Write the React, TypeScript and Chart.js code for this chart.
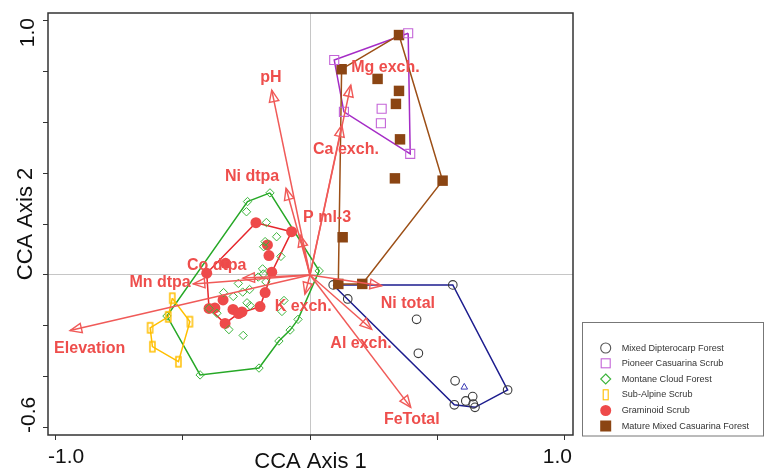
import React, { useEffect, useRef } from 'react';
import { Chart, registerables } from 'chart.js';

Chart.register(...registerables);

// ---------- data (CCA scores) ----------
const mixedDipterocarp: [number, number][] = [
  [0.091, -0.039], [0.148, -0.094], [0.560, -0.039], [0.418, -0.174], [0.425, -0.307], [0.569, -0.415],
  [0.775, -0.451], [0.566, -0.509], [0.611, -0.494], [0.638, -0.477], [0.640, -0.506], [0.647, -0.519],
];
const mixedDipterocarpHull = [0, 2, 6, 11, 7, 0];

const pioneerCasuarina: [number, number][] = [
  [0.385, 0.948], [0.095, 0.843], [0.133, 0.640], [0.281, 0.652], [0.278, 0.595], [0.393, 0.475],
];
const pioneerCasuarinaHull = [0, 5, 2, 1, 0];

const montaneCloud: [number, number][] = [
  [-0.157, 0.322], [-0.245, 0.288], [-0.249, 0.248], [-0.171, 0.206], [-0.131, 0.150], [-0.176, 0.131],
  [-0.182, 0.111], [-0.114, 0.073], [0.036, 0.016], [-0.186, 0.024], [-0.183, 0.004], [-0.203, -0.008],
  [-0.173, -0.027], [-0.281, -0.033], [-0.237, -0.057], [-0.339, -0.069], [-0.301, -0.084], [-0.264, -0.067],
  [-0.247, -0.109], [-0.235, -0.120], [-0.102, -0.100], [-0.110, -0.143], [-0.561, -0.161], [-0.365, -0.150],
  [-0.318, -0.214], [-0.262, -0.237], [-0.047, -0.174], [-0.078, -0.216], [-0.122, -0.259], [-0.200, -0.365],
  [-0.431, -0.392], [-0.396, -0.131],
];
const montaneCloudHull = [0, 1, 22, 30, 29, 28, 27, 26, 8, 0];

const subAlpine: [number, number][] = [
  [-0.540, -0.091], [-0.471, -0.183], [-0.516, -0.340], [-0.618, -0.281], [-0.627, -0.207], [-0.556, -0.164],
];
const subAlpineHull = [0, 1, 2, 3, 4, 5, 0];

const graminoid: [number, number][] = [
  [-0.212, 0.205], [-0.072, 0.170], [-0.167, 0.118], [-0.161, 0.076], [-0.331, 0.046], [-0.405, 0.007],
  [-0.150, 0.011], [-0.176, -0.069], [-0.196, -0.124], [-0.396, -0.131], [-0.373, -0.129], [-0.341, -0.098],
  [-0.302, -0.135], [-0.280, -0.151], [-0.267, -0.145], [-0.333, -0.190],
];
const graminoidHull = [0, 1, 6, 7, 8, 13, 15, 9, 5, 0];

const matureCasuarina: [number, number][] = [
  [0.349, 0.941], [0.124, 0.807], [0.265, 0.769], [0.349, 0.722], [0.337, 0.671], [0.353, 0.532],
  [0.333, 0.379], [0.520, 0.370], [0.128, 0.148], [0.111, -0.035], [0.205, -0.035],
];
const matureCasuarinaHull = [0, 7, 10, 9, 1, 0];

const centroidMarker: [number, number][] = [[0.605, -0.440]];

// environmental vectors (arrow tips) and their label anchors, in axis units
const envNames = ['pH', 'Ni dtpa', 'P ml-3', 'Mg exch.', 'Ca exch.', 'Co dtpa', 'Mn dtpa', 'Elevation', 'K exch.', 'Ni total', 'Al exch.', 'FeTotal'];
const envX = [-0.150, -0.094, -0.039, 0.160, 0.125, -0.263, -0.458, -0.941, -0.020, 0.281, 0.242, 0.395];
const envY = [0.725, 0.340, 0.157, 0.745, 0.588, -0.012, -0.035, -0.218, -0.075, -0.042, -0.213, -0.519];
const envLabelX = [-0.153, -0.227, 0.067, 0.296, 0.141, -0.366, -0.588, -0.864, -0.027, 0.384, 0.200, 0.399];
const envLabelY = [0.776, 0.384, 0.224, 0.812, 0.490, 0.035, -0.031, -0.287, -0.122, -0.111, -0.268, -0.569];

const xTickValues = [-1, -0.5, 0, 0.5, 1];
const yTickValues = [-0.6, -0.4, -0.2, 0, 0.2, 0.4, 0.6, 0.8, 1.0];
const xTickLabels = ['-1.0', '1.0'];
const yTickLabels = ['1.0', '-0.6'];
const xTitle = 'CCA Axis 1';
const yTitle = 'CCA Axis 2';

const legendNames = [
  'Mixed Dipterocarp Forest',
  'Pioneer Casuarina Scrub',
  'Montane Cloud Forest',
  'Sub-Alpine Scrub',
  'Graminoid Scrub',
  'Mature Mixed Casuarina Forest',
];

// ---------- styles ----------
const FONT = '"Liberation Sans", Arial, Helvetica, sans-serif';
const ARROW = '#f05a58';
const ARROW_TEXT = '#ee4e4c';
const C_BLACK = '#3a3a3a';
const C_NAVY = '#1c1c8e';
const C_PURPLE_PT = '#c464d8';
const C_PURPLE_LN = '#a52cc6';
const C_GREEN_PT = '#3cb43c';
const C_GREEN_LN = '#26a826';
const C_YELLOW = '#ffbf00';
const C_RED_PT = '#ee4a4a';
const C_RED_LN = '#e6262c';
const C_BROWN_PT = '#8b4513';
const C_BROWN_LN = '#9c4f16';

const toPts = (arr: [number, number][]) => arr.map(([x, y]) => ({ x, y }));
const toHull = (arr: [number, number][], idx: number[]) => idx.map((i) => ({ x: arr[i][0], y: arr[i][1] }));

function makeTallRect(color: string) {
  const c = document.createElement('canvas');
  c.width = 9;
  c.height = 14;
  const g = c.getContext('2d')!;
  g.strokeStyle = color;
  g.lineWidth = 1.5;
  g.strokeRect(2, 2, 5, 10);
  return c;
}

const overlay = {
  id: 'overlay',
  afterDatasetsDraw(chart: any) {
    const { ctx, scales } = chart;
    const sx = scales.x, sy = scales.y;
    const ox = sx.getPixelForValue(0), oy = sy.getPixelForValue(0);
    ctx.save();
    ctx.strokeStyle = ARROW;
    ctx.lineWidth = 1.4;
    ctx.lineJoin = 'miter';
    for (let i = 0; i < envNames.length; i++) {
      const tx = sx.getPixelForValue(envX[i]);
      const ty = sy.getPixelForValue(envY[i]);
      const dx = tx - ox, dy = ty - oy;
      const len = Math.hypot(dx, dy) || 1;
      const ux = dx / len, uy = dy / len;
      const L = 11.5, W = 4.8;
      const bx = tx - ux * L, by = ty - uy * L;
      ctx.beginPath();
      ctx.moveTo(tx, ty);
      ctx.lineTo(bx - uy * W, by + ux * W);
      ctx.lineTo(bx + uy * W, by - ux * W);
      ctx.closePath();
      ctx.stroke();
    }
    ctx.fillStyle = ARROW_TEXT;
    ctx.font = `bold 16px ${FONT}`;
    ctx.textAlign = 'center';
    ctx.textBaseline = 'middle';
    for (let i = 0; i < envNames.length; i++) {
      ctx.fillText(envNames[i], sx.getPixelForValue(envLabelX[i]), sy.getPixelForValue(envLabelY[i]));
    }
    ctx.restore();
  },
  afterDraw(chart: any) {
    const { ctx, chartArea: a } = chart;
    ctx.save();
    // frame
    ctx.strokeStyle = '#333';
    ctx.lineWidth = 1.5;
    ctx.strokeRect(a.left, a.top, a.right - a.left, a.bottom - a.top);

    // tick labels
    ctx.fillStyle = '#111';
    ctx.font = `21px ${FONT}`;
    ctx.textBaseline = 'alphabetic';
    ctx.textAlign = 'left';
    ctx.fillText(xTickLabels[0], a.left, 463);
    ctx.textAlign = 'right';
    ctx.fillText(xTickLabels[1], a.right - 1, 463);

    ctx.save();
    ctx.translate(33.5, a.top + 5);
    ctx.rotate(-Math.PI / 2);
    ctx.textAlign = 'right';
    ctx.fillText(yTickLabels[0], 0, 0);
    ctx.restore();
    ctx.save();
    ctx.translate(34.5, a.bottom - 2);
    ctx.rotate(-Math.PI / 2);
    ctx.textAlign = 'left';
    ctx.fillText(yTickLabels[1], 0, 0);
    ctx.restore();

    // axis titles
    ctx.font = `22px ${FONT}`;
    ctx.textAlign = 'center';
    ctx.fillText(xTitle, (a.left + a.right) / 2, 468);
    ctx.save();
    ctx.translate(31.5, (a.top + a.bottom) / 2);
    ctx.rotate(-Math.PI / 2);
    ctx.fillText(yTitle, 0, 0);
    ctx.restore();

    // legend
    const lx = 582.5, ly = 322.5, lw = 181, lh = 113.5;
    ctx.strokeStyle = '#777';
    ctx.lineWidth = 1;
    ctx.strokeRect(lx, ly, lw, lh);
    const mx = 605.7, tx = 621.7;
    const rows = [348, 363.3, 379, 394.8, 410.5, 426];
    ctx.font = `9.1px ${FONT}`;
    ctx.textAlign = 'left';
    ctx.textBaseline = 'middle';
    rows.forEach((ry, i) => {
      ctx.lineWidth = 1.1;
      if (i === 0) {
        ctx.strokeStyle = '#555';
        ctx.beginPath(); ctx.arc(mx, ry, 5, 0, Math.PI * 2); ctx.stroke();
      } else if (i === 1) {
        ctx.strokeStyle = C_PURPLE_PT;
        ctx.strokeRect(mx - 4.5, ry - 4.5, 9, 9);
      } else if (i === 2) {
        ctx.strokeStyle = C_GREEN_PT;
        ctx.beginPath();
        ctx.moveTo(mx, ry - 5); ctx.lineTo(mx + 5, ry); ctx.lineTo(mx, ry + 5); ctx.lineTo(mx - 5, ry);
        ctx.closePath(); ctx.stroke();
      } else if (i === 3) {
        ctx.strokeStyle = C_YELLOW;
        ctx.strokeRect(mx - 2.5, ry - 5, 5, 10);
      } else if (i === 4) {
        ctx.fillStyle = C_RED_PT;
        ctx.beginPath(); ctx.arc(mx, ry, 5.5, 0, Math.PI * 2); ctx.fill();
      } else {
        ctx.fillStyle = C_BROWN_PT;
        ctx.fillRect(mx - 5.5, ry - 5.5, 11, 11);
      }
      ctx.fillStyle = '#333';
      ctx.fillText(legendNames[i], tx, ry);
    });
    ctx.restore();
  },
};

export default function App() {
  const ref = useRef<HTMLCanvasElement | null>(null);

  useEffect(() => {
    if (!ref.current) return;
    const hullDs = (data: any[], color: string, order: number) => ({
      type: 'line' as const,
      data,
      borderColor: color,
      borderWidth: 1.5,
      pointRadius: 0,
      showLine: true,
      fill: false,
      tension: 0,
      order,
    });
    const arrowDs = envNames.map((n, i) => ({
      type: 'line' as const,
      label: n,
      data: [{ x: 0, y: 0 }, { x: envX[i], y: envY[i] }],
      borderColor: ARROW,
      borderWidth: 1.5,
      pointRadius: 0,
      showLine: true,
      fill: false,
      order: 5,
    }));
    const yellowStyle = makeTallRect(C_YELLOW);

    const chart = new Chart(ref.current, {
      type: 'scatter',
      data: {
        datasets: [
          hullDs(toHull(montaneCloud, montaneCloudHull), C_GREEN_LN, 40),
          hullDs(toHull(subAlpine, subAlpineHull), C_YELLOW, 39),
          hullDs(toHull(graminoid, graminoidHull), C_RED_LN, 38),
          hullDs(toHull(mixedDipterocarp, mixedDipterocarpHull), C_NAVY, 37),
          hullDs(toHull(pioneerCasuarina, pioneerCasuarinaHull), C_PURPLE_LN, 36),
          hullDs(toHull(matureCasuarina, matureCasuarinaHull), C_BROWN_LN, 35),
          {
            label: legendNames[4], data: toPts(graminoid), pointStyle: 'circle', pointRadius: 5.5,
            backgroundColor: C_RED_PT, borderColor: C_RED_PT, borderWidth: 0, order: 30,
          },
          {
            label: legendNames[2], data: toPts(montaneCloud), pointStyle: 'rectRot', pointRadius: 4.2,
            backgroundColor: 'rgba(0,0,0,0)', borderColor: C_GREEN_PT, borderWidth: 1, order: 29,
          },
          {
            label: legendNames[3], data: toPts(subAlpine), pointStyle: yellowStyle as any, pointRadius: 5,
            backgroundColor: 'rgba(0,0,0,0)', borderColor: C_YELLOW, borderWidth: 1, order: 28,
          },
          {
            label: legendNames[0], data: toPts(mixedDipterocarp), pointStyle: 'circle', pointRadius: 4.3,
            backgroundColor: 'rgba(0,0,0,0)', borderColor: C_BLACK, borderWidth: 1.1, order: 27,
          },
          {
            label: 'centroid', data: toPts(centroidMarker), pointStyle: 'triangle', pointRadius: 3.8,
            backgroundColor: 'rgba(0,0,0,0)', borderColor: '#3838b4', borderWidth: 1, order: 27,
          },
          {
            label: legendNames[5], data: toPts(matureCasuarina), pointStyle: 'rect', pointRadius: 7.4,
            backgroundColor: C_BROWN_PT, borderColor: C_BROWN_PT, borderWidth: 0, order: 26,
          },
          {
            label: legendNames[1], data: toPts(pioneerCasuarina), pointStyle: 'rect', pointRadius: 6.4,
            backgroundColor: 'rgba(0,0,0,0)', borderColor: C_PURPLE_PT, borderWidth: 1.1, order: 25,
          },
          ...arrowDs,
        ] as any,
      },
      options: {
        responsive: false,
        animation: false,
        devicePixelRatio: 1,
        layout: { padding: { left: 0, right: 192, top: 13, bottom: 0 } },
        plugins: { legend: { display: false }, tooltip: { enabled: false }, title: { display: false } },
        events: [],
        scales: {
          x: {
            type: 'linear',
            position: 'bottom',
            min: -1.0275,
            max: 1.0314,
            afterBuildTicks: (s: any) => { s.ticks = xTickValues.map((v) => ({ value: v })); },
            afterFit: (s: any) => { s.height = 35; },
            ticks: { display: false },
            border: { display: false },
            grid: {
              drawOnChartArea: true,
              drawTicks: true,
              tickLength: 5,
              tickColor: '#333',
              tickWidth: 1,
              lineWidth: 1,
              color: (c: any) => (c.tick && c.tick.value === 0 ? '#c6c6c6' : 'rgba(0,0,0,0)'),
            },
          },
          y: {
            type: 'linear',
            position: 'left',
            min: -0.6275,
            max: 1.0275,
            afterBuildTicks: (s: any) => { s.ticks = yTickValues.map((v) => ({ value: v })); },
            afterFit: (s: any) => { s.width = 48; },
            ticks: { display: false },
            border: { display: false },
            grid: {
              drawOnChartArea: true,
              drawTicks: true,
              tickLength: 5,
              tickColor: '#333',
              tickWidth: 1,
              lineWidth: 1,
              color: (c: any) => (c.tick && Math.abs(c.tick.value) < 1e-9 ? '#c6c6c6' : 'rgba(0,0,0,0)'),
            },
          },
        },
      },
      plugins: [overlay],
    });
    return () => chart.destroy();
  }, []);

  return (
    <div style={{ position: 'fixed', left: 0, top: 0, width: 765, height: 470, background: '#fff' }}>
      <canvas ref={ref} width={765} height={470} style={{ display: 'block' }} />
    </div>
  );
}
